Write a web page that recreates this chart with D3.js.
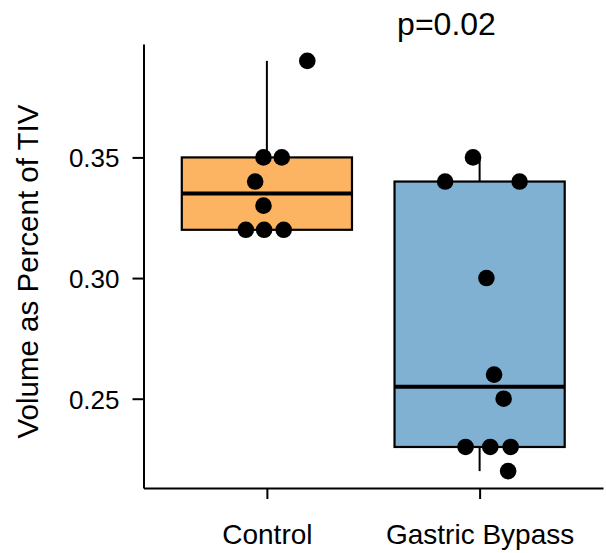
<!DOCTYPE html>
<html>
<head>
<meta charset="utf-8">
<script src="https://cdn.jsdelivr.net/npm/d3@7"></script>
<style>
  body { margin: 0; background: #fff; }
  text { font-family: "Liberation Sans", Arial, Helvetica, sans-serif; fill: #000; }
</style>
</head>
<body>
<svg id="chart" width="606" height="553"></svg>
<script>
// groups and box colours
var categories = ["Control", "Gastric Bypass"];
var fills = ["#FDB462", "#80B1D3"];

// box statistics
var whiskerLow = [0.32, 0.22];
var boxQ1 = [0.32, 0.23];
var boxMedian = [0.335, 0.255];
var boxQ3 = [0.35, 0.34];
var whiskerHigh = [0.39, 0.35];

// individual points (value, horizontal jitter as a fraction of the group step)
var controlValues = [0.39, 0.35, 0.35, 0.34, 0.33, 0.32, 0.32, 0.32];
var controlJitter = [0.19, -0.016, 0.07, -0.055, -0.016, -0.099, -0.013, 0.079];
var bypassValues = [0.35, 0.34, 0.34, 0.30, 0.26, 0.25, 0.23, 0.23, 0.23, 0.22];
var bypassJitter = [-0.031, -0.162, 0.188, 0.032, 0.068, 0.113, -0.066, 0.05, 0.146, 0.134];

var yTicks = [0.25, 0.30, 0.35];
var pLabel = "p=0.02";

// panel edges
var panel = { left: 143.5, right: 603, top: 44, bottom: 488 };

var svg = d3.select("#chart");

var x = d3.scalePoint()
  .domain(categories)
  .range([panel.left, panel.right])
  .padding(0.58);

var y = d3.scaleLinear()
  .domain([0.213, 0.397])
  .range([panel.bottom, panel.top]);

var step = x.step();
var boxW = step * 0.8;

// boxes
var boxes = categories.map(function(c, i) {
  return { cat: c, lo: whiskerLow[i], q1: boxQ1[i], med: boxMedian[i], q3: boxQ3[i], hi: whiskerHigh[i], fill: fills[i] };
});

var g = svg.append("g");

// whiskers
g.selectAll(".whiskerUp")
  .data(boxes)
  .enter().append("line")
  .attr("x1", function(d) { return x(d.cat); })
  .attr("x2", function(d) { return x(d.cat); })
  .attr("y1", function(d) { return y(d.q3); })
  .attr("y2", function(d) { return y(d.hi); })
  .attr("stroke", "#000")
  .attr("stroke-width", 2);

g.selectAll(".whiskerDown")
  .data(boxes)
  .enter().append("line")
  .attr("x1", function(d) { return x(d.cat); })
  .attr("x2", function(d) { return x(d.cat); })
  .attr("y1", function(d) { return y(d.q1); })
  .attr("y2", function(d) { return y(d.lo); })
  .attr("stroke", "#000")
  .attr("stroke-width", 2);

// box bodies
g.selectAll(".box")
  .data(boxes)
  .enter().append("rect")
  .attr("x", function(d) { return x(d.cat) - boxW / 2; })
  .attr("y", function(d) { return y(d.q3); })
  .attr("width", boxW)
  .attr("height", function(d) { return y(d.q1) - y(d.q3); })
  .attr("fill", function(d) { return d.fill; })
  .attr("stroke", "#000")
  .attr("stroke-width", 2.2);

// medians
g.selectAll(".median")
  .data(boxes)
  .enter().append("line")
  .attr("x1", function(d) { return x(d.cat) - boxW / 2; })
  .attr("x2", function(d) { return x(d.cat) + boxW / 2; })
  .attr("y1", function(d) { return y(d.med); })
  .attr("y2", function(d) { return y(d.med); })
  .attr("stroke", "#000")
  .attr("stroke-width", 4);

// points
var points = [];
controlValues.forEach(function(v, i) { points.push({ cat: categories[0], v: v, j: controlJitter[i] }); });
bypassValues.forEach(function(v, i) { points.push({ cat: categories[1], v: v, j: bypassJitter[i] }); });

g.selectAll(".pt")
  .data(points)
  .enter().append("circle")
  .attr("cx", function(d) { return x(d.cat) + d.j * step; })
  .attr("cy", function(d) { return y(d.v); })
  .attr("r", 8.3)
  .attr("fill", "#000");

// y axis
var yAxis = svg.append("g")
  .attr("transform", "translate(" + panel.left + ",0)")
  .call(d3.axisLeft(y).tickValues(yTicks).tickFormat(d3.format(".2f")).tickSize(11).tickPadding(13).tickSizeOuter(0));
yAxis.select(".domain").attr("stroke-width", 2);
yAxis.selectAll(".tick line").attr("stroke-width", 2);
yAxis.selectAll("text").attr("font-size", "26px").attr("fill", "#000").attr("dy", "0.36em");

// x axis
var xAxis = svg.append("g")
  .attr("transform", "translate(0," + panel.bottom + ")")
  .call(d3.axisBottom(x).tickSize(11).tickPadding(25).tickSizeOuter(0));
xAxis.select(".domain").attr("stroke-width", 2);
xAxis.selectAll(".tick line").attr("stroke-width", 2);
xAxis.selectAll("text").attr("font-size", "28px").attr("fill", "#000");

// y axis title
svg.append("text")
  .attr("transform", "rotate(-90)")
  .attr("x", -271.5)
  .attr("y", 38)
  .attr("text-anchor", "middle")
  .attr("font-size", "29.5px")
  .text("Volume as Percent of TIV");

// p-value label
svg.append("text")
  .attr("x", 446.5)
  .attr("y", 35)
  .attr("text-anchor", "middle")
  .attr("font-size", "32px")
  .text(pLabel);
</script>
</body>
</html>
